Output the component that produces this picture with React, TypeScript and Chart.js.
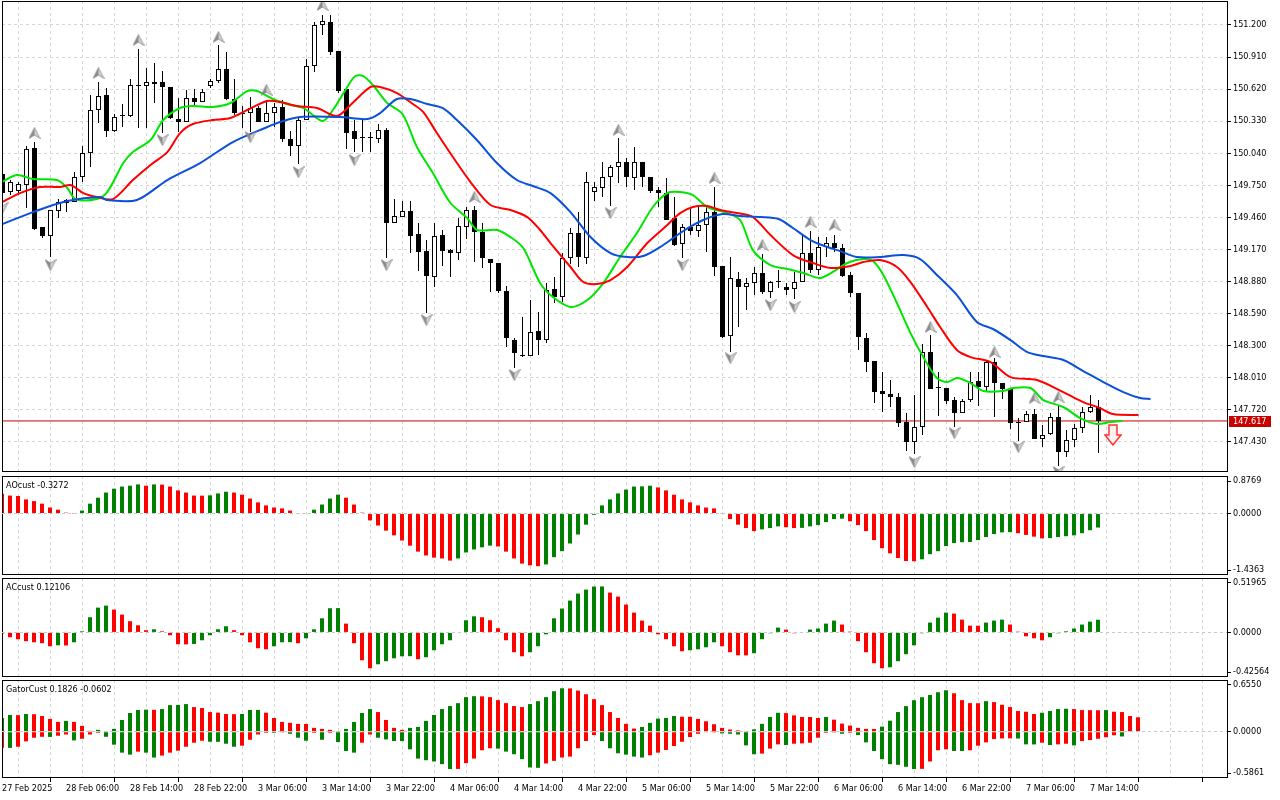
import React, { useEffect, useRef } from "react";
import { Chart, registerables } from "chart.js";

Chart.register(...registerables);

// ---------------- data ----------------
const TIME_LABELS = [
  "27 Feb 2025", "28 Feb 06:00", "28 Feb 14:00", "28 Feb 22:00", "3 Mar 06:00", "3 Mar 14:00",
  "3 Mar 22:00", "4 Mar 06:00", "4 Mar 14:00", "4 Mar 22:00", "5 Mar 06:00", "5 Mar 14:00",
  "5 Mar 22:00", "6 Mar 06:00", "6 Mar 14:00", "6 Mar 22:00", "7 Mar 06:00", "7 Mar 14:00",
];

const PRICE_TICKS = [
  147.43, 147.72, 148.01, 148.3, 148.59, 148.88, 149.17, 149.46, 149.75, 150.04, 150.33, 150.62, 150.91, 151.2,
];
const PRICE_MIN = 147.155;
const PRICE_MAX = 151.417;
const LAST_PRICE = 147.617;

const OPEN = [
  149.851, 149.689, 149.698, 149.752, 150.087, 149.372, 149.290, 149.517, 149.589, 149.598,
  149.824, 150.041, 150.431, 150.566, 150.240, 150.385, 150.376, 150.657, 150.648, 150.684,
  150.684, 150.639, 150.349, 150.322, 150.539, 150.503, 150.648, 150.693, 150.801, 150.530,
  150.403, 150.403, 150.449, 150.322, 150.403, 150.458, 150.168, 150.105, 150.340, 150.829,
  151.200, 151.227, 150.964, 150.621, 150.240, 150.186, 150.177, 150.168, 150.250, 149.408,
  149.462, 149.517, 149.308, 149.154, 148.919, 149.299, 149.163, 149.136, 149.372, 149.526,
  149.326, 149.082, 149.046, 148.793, 148.349, 148.213, 148.204, 148.431, 148.349, 148.811,
  148.738, 149.091, 149.317, 149.091, 149.689, 149.725, 149.824, 149.915, 149.960, 149.815,
  149.960, 149.824, 149.707, 149.679, 149.453, 149.218, 149.372, 149.336, 149.390, 149.507,
  149.019, 148.385, 148.901, 148.829, 148.865, 148.956, 148.784, 148.874, 148.829, 148.811,
  148.874, 149.136, 148.983, 149.191, 149.227, 149.182, 148.938, 148.774, 148.367, 148.159,
  147.888, 147.860, 147.833, 147.607, 147.426, 147.562, 148.240, 147.915, 147.915, 147.806,
  147.688, 147.806, 147.978, 147.924, 148.150, 147.960, 147.906, 147.607, 147.607, 147.679,
  147.453, 147.498, 147.652, 147.336, 147.444, 147.553, 147.697, 147.743,
];
const HIGH = [
  149.888, 149.797, 149.779, 150.105, 150.141, 149.372, 149.526, 149.625, 149.625, 149.869,
  150.105, 150.566, 150.684, 150.630, 150.394, 150.485, 150.711, 150.983, 150.811, 150.856,
  150.783, 150.639, 150.539, 150.612, 150.621, 150.621, 150.711, 151.019, 150.955, 150.711,
  150.467, 150.548, 150.467, 150.521, 150.494, 150.521, 150.240, 150.358, 150.892, 151.227,
  151.290, 151.290, 150.964, 150.639, 150.340, 150.340, 150.231, 150.304, 150.268, 149.625,
  149.607, 149.607, 149.408, 149.254, 149.408, 149.345, 149.173, 149.453, 149.553, 149.562,
  149.408, 149.082, 149.046, 148.838, 148.367, 148.557, 148.711, 148.602, 148.865, 148.919,
  149.136, 149.363, 149.507, 149.869, 149.779, 149.960, 149.933, 150.177, 149.996, 150.096,
  149.960, 149.824, 149.734, 149.815, 149.643, 149.399, 149.553, 149.553, 149.553, 149.734,
  149.019, 149.100, 148.965, 148.910, 149.010, 149.127, 148.883, 148.983, 148.865, 148.965,
  149.299, 149.336, 149.281, 149.281, 149.299, 149.218, 148.965, 148.774, 148.412, 148.159,
  148.060, 147.987, 147.869, 147.688, 147.851, 148.313, 148.394, 148.060, 147.915, 147.833,
  147.815, 148.060, 148.060, 148.168, 148.186, 147.960, 147.906, 147.643, 147.706, 147.724,
  147.580, 147.688, 147.761, 147.535, 147.589, 147.743, 147.851, 147.806,
];
const LOW = [
  149.643, 149.661, 149.661, 149.544, 149.345, 149.272, 149.100, 149.453, 149.507, 149.598,
  149.779, 149.915, 150.313, 150.186, 150.231, 150.277, 150.367, 150.268, 150.268, 150.494,
  150.222, 150.349, 150.231, 150.322, 150.458, 150.503, 150.630, 150.675, 150.521, 150.385,
  150.268, 150.231, 150.322, 150.322, 150.277, 150.141, 150.014, 149.942, 150.340, 150.774,
  151.109, 150.928, 150.584, 150.078, 150.050, 150.050, 150.050, 150.132, 149.091, 149.408,
  149.462, 149.136, 148.974, 148.593, 148.829, 149.019, 148.919, 149.073, 149.263, 149.055,
  149.001, 148.784, 148.774, 148.286, 148.096, 148.195, 148.204, 148.213, 148.322, 148.684,
  148.693, 149.037, 149.010, 149.037, 149.607, 149.643, 149.562, 149.770, 149.734, 149.707,
  149.734, 149.679, 149.553, 149.435, 149.200, 149.091, 149.299, 149.281, 149.145, 148.928,
  148.367, 148.240, 148.467, 148.621, 148.756, 148.765, 148.729, 148.820, 148.756, 148.720,
  148.874, 148.956, 148.938, 149.100, 149.145, 148.919, 148.738, 148.259, 148.060, 147.779,
  147.697, 147.743, 147.562, 147.345, 147.317, 147.489, 147.906, 147.661, 147.770, 147.562,
  147.688, 147.788, 147.752, 147.878, 147.652, 147.815, 147.544, 147.435, 147.607, 147.453,
  147.381, 147.489, 147.209, 147.290, 147.381, 147.507, 147.688, 147.326,
];
const CLOSE = [
  149.679, 149.779, 149.761, 150.078, 149.354, 149.290, 149.526, 149.598, 149.616, 149.824,
  150.041, 150.431, 150.557, 150.240, 150.367, 150.376, 150.657, 150.648, 150.684, 150.666,
  150.639, 150.358, 150.322, 150.539, 150.503, 150.593, 150.693, 150.801, 150.530, 150.403,
  150.394, 150.449, 150.322, 150.403, 150.458, 150.168, 150.105, 150.340, 150.829, 151.200,
  151.236, 150.955, 150.602, 150.222, 150.168, 150.177, 150.186, 150.250, 149.408, 149.471,
  149.517, 149.290, 149.145, 148.928, 149.290, 149.154, 149.136, 149.381, 149.526, 149.326,
  149.091, 149.046, 148.793, 148.367, 148.231, 148.204, 148.421, 148.349, 148.802, 148.738,
  149.091, 149.317, 149.100, 149.779, 149.734, 149.824, 149.915, 149.960, 149.824, 149.960,
  149.824, 149.698, 149.679, 149.435, 149.209, 149.372, 149.336, 149.390, 149.507, 149.010,
  148.376, 148.910, 148.829, 148.865, 148.956, 148.784, 148.874, 148.883, 148.802, 148.874,
  149.136, 148.983, 149.191, 149.227, 149.182, 148.928, 148.774, 148.376, 148.150, 147.878,
  147.860, 147.833, 147.598, 147.426, 147.562, 148.240, 147.906, 147.924, 147.797, 147.688,
  147.797, 147.969, 147.924, 148.150, 147.960, 147.906, 147.598, 147.598, 147.679, 147.453,
  147.489, 147.652, 147.336, 147.444, 147.553, 147.697, 147.743, 147.617,
];

// Alligator lines: [bar index, price]
const JAW = [
  [-0.3, 149.39], [3.8, 149.507], [8.1, 149.607], [12.2, 149.643], [13.1, 149.616], [16.8, 149.616],
  [20.6, 149.797], [24.7, 149.951], [28.8, 150.141], [33.1, 150.277], [34.7, 150.322], [37.2, 150.367],
  [42.2, 150.367], [45.6, 150.349], [47.2, 150.403], [49.3, 150.53], [51.0, 150.53], [53.1, 150.485],
  [55.0, 150.449], [56.8, 150.34], [59.3, 150.159], [61.8, 149.951], [64.3, 149.797], [66.3, 149.743],
  [68.5, 149.679], [71.0, 149.507], [73.5, 149.281], [76.0, 149.136], [78.1, 149.1], [80.1, 149.109],
  [82.6, 149.209], [85.1, 149.336], [87.6, 149.435], [90.0, 149.489], [92.2, 149.471], [94.7, 149.462],
  [97.0, 149.444], [98.8, 149.363], [101.0, 149.254], [103.1, 149.191], [104.7, 149.154], [106.8, 149.1],
  [109.7, 149.1], [112.6, 149.118], [114.7, 149.082], [116.8, 148.938], [119.3, 148.756], [121.8, 148.512],
  [123.8, 148.449], [126.0, 148.349], [128.1, 148.24], [130.1, 148.204], [132.6, 148.168], [135.1, 148.068],
  [137.6, 147.969], [140.1, 147.878], [142.2, 147.824], [143.5, 147.815],
];
const TEETH = [
  [-0.3, 149.589], [2.2, 149.679], [4.7, 149.734], [7.2, 149.734], [8.5, 149.752], [10.1, 149.679],
  [11.8, 149.643], [13.8, 149.625], [16.3, 149.797], [18.5, 149.933], [20.6, 150.05], [22.2, 150.222],
  [23.8, 150.304], [26.3, 150.34], [28.5, 150.358], [30.6, 150.431], [33.1, 150.512], [34.7, 150.503],
  [36.8, 150.467], [39.3, 150.449], [41.8, 150.376], [43.5, 150.476], [46.0, 150.639], [47.2, 150.639],
  [49.3, 150.584], [51.3, 150.485], [52.6, 150.412], [54.3, 150.222], [56.3, 150.005], [58.5, 149.779],
  [61.0, 149.571], [63.5, 149.526], [65.6, 149.462], [67.2, 149.345], [68.5, 149.227], [71.0, 149.01],
  [72.6, 148.874], [74.3, 148.856], [76.0, 148.892], [78.1, 149.01], [80.6, 149.227], [83.1, 149.39],
  [84.7, 149.498], [86.3, 149.553], [88.1, 149.562], [89.7, 149.526], [91.8, 149.498], [93.8, 149.462],
  [96.0, 149.299], [98.8, 149.118], [101.3, 149.046], [103.5, 149.001], [106.0, 149.019], [107.6, 149.055],
  [109.7, 149.073], [111.8, 149.01], [113.5, 148.874], [115.6, 148.648], [117.2, 148.467], [119.3, 148.259],
  [121.0, 148.195], [123.5, 148.15], [126.0, 148.014], [129.3, 147.987], [132.6, 147.878], [135.1, 147.788],
  [137.2, 147.733], [138.8, 147.679], [142.0, 147.67],
];
const LIPS = [
  [-0.3, 149.77], [1.8, 149.842], [3.8, 149.806], [6.8, 149.797], [8.1, 149.725], [9.1, 149.625],
  [11.8, 149.625], [13.1, 149.689], [15.1, 149.951], [16.3, 150.05], [18.5, 150.159], [20.1, 150.34],
  [22.2, 150.449], [23.8, 150.467], [26.3, 150.458], [28.5, 150.494], [30.6, 150.602], [31.8, 150.602],
  [33.8, 150.53], [36.0, 150.476], [37.6, 150.449], [40.0, 150.331], [41.3, 150.431], [43.1, 150.639],
  [44.1, 150.738], [45.1, 150.738], [46.3, 150.657], [48.1, 150.494], [50.0, 150.394], [51.8, 150.096],
  [53.8, 149.86], [56.0, 149.589], [58.1, 149.453], [59.3, 149.345], [61.8, 149.345], [63.5, 149.281],
  [65.1, 149.182], [67.2, 148.865], [68.8, 148.738], [71.0, 148.648], [73.1, 148.711], [75.1, 148.865],
  [77.2, 149.1], [79.3, 149.317], [81.3, 149.553], [83.1, 149.679], [84.7, 149.689], [86.3, 149.661],
  [88.1, 149.553], [90.6, 149.498], [92.2, 149.435], [93.8, 149.163], [96.0, 149.028], [98.1, 148.992],
  [100.1, 148.956], [102.2, 148.91], [103.8, 148.965], [105.6, 149.046], [107.6, 149.082], [108.8, 149.064],
  [110.1, 148.938], [111.8, 148.684], [113.5, 148.412], [115.1, 148.195], [116.8, 148.005], [118.1, 147.969],
  [119.3, 148.005], [121.0, 147.96], [122.6, 147.888], [125.1, 147.888], [126.3, 147.915], [128.5, 147.915],
  [130.1, 147.806], [132.6, 147.743], [134.7, 147.643], [136.8, 147.589], [138.5, 147.607], [140.0, 147.616],
];

// Fractal marks: bar index and the price where the arrow sits
const FRACTAL_UP_BAR = [4, 12, 17, 27, 33, 40, 59, 77, 89, 95, 101, 104, 116, 124, 129, 132];
const FRACTAL_UP_PRICE = [
  150.222, 150.765, 151.064, 151.091, 150.612, 151.381, 149.643, 150.25, 149.815, 149.209, 149.417, 149.39,
  148.467, 148.24, 147.824, 147.833,
];
const FRACTAL_DOWN_BAR = [0, 6, 20, 31, 37, 44, 48, 53, 64, 76, 85, 91, 96, 99, 114, 119, 127, 132];
const FRACTAL_DOWN_PRICE = [
  149.544, 149.028, 150.159, 150.186, 149.869, 149.978, 149.028, 148.53, 148.032, 149.498, 149.028, 148.186,
  148.666, 148.648, 147.245, 147.507, 147.381, 147.155,
];
const SIGNAL_BAR = [138.8];
const SIGNAL_PRICE = [147.49];

const AO = [
  0.46, 0.42, 0.41, 0.33, 0.29, 0.23, 0.14, 0.09, 0.02, 0.003,
  0.07, 0.23, 0.37, 0.49, 0.58, 0.63, 0.65, 0.68, 0.65, 0.68,
  0.675, 0.63, 0.54, 0.49, 0.42, 0.418, 0.425, 0.47, 0.51, 0.49,
  0.44, 0.35, 0.26, 0.19, 0.14, 0.12, 0.07, 0.005, 0.01, 0.09,
  0.21, 0.35, 0.44, 0.37, 0.21, 0.02, -0.16, -0.28, -0.4, -0.51,
  -0.63, -0.75, -0.89, -0.98, -1.03, -1.05, -1.1, -1.05, -0.91, -0.84,
  -0.79, -0.75, -0.77, -0.89, -1.05, -1.17, -1.21, -1.23, -1.19, -1.02,
  -0.88, -0.7, -0.49, -0.26, -0.03, 0.19, 0.33, 0.47, 0.56, 0.63,
  0.635, 0.65, 0.61, 0.54, 0.44, 0.33, 0.26, 0.19, 0.14, 0.12,
  0.005, -0.13, -0.26, -0.34, -0.41, -0.37, -0.34, -0.3, -0.32, -0.34,
  -0.335, -0.3, -0.27, -0.2, -0.13, -0.12, -0.18, -0.27, -0.41, -0.62,
  -0.81, -0.93, -1.04, -1.11, -1.115, -1.07, -0.95, -0.88, -0.76, -0.69,
  -0.67, -0.665, -0.62, -0.55, -0.48, -0.44, -0.435, -0.46, -0.5, -0.54,
  -0.58, -0.575, -0.55, -0.53, -0.51, -0.46, -0.39, -0.3272,
];
const AO_MIN = -1.4363;
const AO_MAX = 0.8769;

const AC = [
  -0.01, -0.046, -0.065, -0.084, -0.094, -0.103, -0.132, -0.123, -0.125, -0.094,
  0.011, 0.145, 0.237, 0.256, 0.218, 0.17, 0.107, 0.068, 0.021, 0.03,
  0.011, -0.027, -0.113, -0.114, -0.11, -0.075, -0.027, 0.03, 0.059, 0.021,
  -0.027, -0.094, -0.151, -0.161, -0.132, -0.094, -0.093, -0.103, -0.056, 0.03,
  0.135, 0.231, 0.232, 0.084, -0.103, -0.266, -0.342, -0.304, -0.275, -0.247,
  -0.228, -0.227, -0.256, -0.237, -0.17, -0.113, -0.075, -0.005, 0.116, 0.154,
  0.145, 0.116, 0.04, -0.075, -0.189, -0.228, -0.189, -0.132, -0.018, 0.135,
  0.228, 0.304, 0.371, 0.409, 0.438, 0.439, 0.38, 0.342, 0.266, 0.189,
  0.113, 0.065, -0.018, -0.065, -0.132, -0.18, -0.17, -0.161, -0.142, -0.094,
  -0.132, -0.189, -0.218, -0.219, -0.199, -0.065, -0.008, 0.046, 0.027, -0.008,
  -0.004, 0.027, 0.037, 0.084, 0.113, 0.075, 0.008, -0.084, -0.189, -0.294,
  -0.342, -0.333, -0.275, -0.208, -0.123, -0.008, 0.094, 0.141, 0.189, 0.18,
  0.122, 0.065, 0.064, 0.094, 0.113, 0.122, 0.075, 0.008, -0.037, -0.056,
  -0.075, -0.046, -0.008, 0.011, 0.037, 0.075, 0.103, 0.12106,
];
const AC_MIN = -0.42564;
const AC_MAX = 0.51965;

const GATOR_UP = [
  0.174, 0.212, 0.21, 0.224, 0.222, 0.199, 0.162, 0.124, 0.137, 0.124,
  0.074, 0.011, 0.024, 0.002, 0.036, 0.149, 0.237, 0.275, 0.279, 0.277,
  0.287, 0.337, 0.339, 0.35, 0.312, 0.3, 0.249, 0.241, 0.224, 0.222,
  0.225, 0.275, 0.276, 0.241, 0.174, 0.124, 0.112, 0.099, 0.098, 0.049,
  0.036, 0.024, 0.003, 0.036, 0.124, 0.237, 0.287, 0.249, 0.149, 0.049,
  0.024, 0.049, 0.061, 0.137, 0.212, 0.287, 0.325, 0.362, 0.438, 0.45,
  0.448, 0.438, 0.4, 0.362, 0.325, 0.312, 0.35, 0.387, 0.438, 0.513,
  0.55, 0.548, 0.521, 0.475, 0.412, 0.337, 0.249, 0.174, 0.099, 0.04,
  0.061, 0.112, 0.166, 0.174, 0.199, 0.19, 0.189, 0.162, 0.132, 0.095,
  0.049, 0.028, 0.016, 0.01, 0.03, 0.1, 0.187, 0.24, 0.236, 0.207,
  0.187, 0.186, 0.174, 0.187, 0.153, 0.103, 0.078, 0.049, 0.036, 0.035,
  0.065, 0.14, 0.249, 0.324, 0.399, 0.437, 0.466, 0.5, 0.525, 0.487,
  0.4, 0.362, 0.361, 0.387, 0.375, 0.341, 0.312, 0.262, 0.253, 0.224,
  0.24, 0.262, 0.287, 0.291, 0.287, 0.274, 0.273, 0.272, 0.274, 0.253,
  0.249, 0.199, 0.1826,
];
const GATOR_DOWN = [
  -0.203, -0.205, -0.19, -0.122, -0.076, -0.064, -0.066, -0.051, -0.035, -0.11,
  -0.089, -0.035, -0.014, -0.064, -0.164, -0.265, -0.29, -0.252, -0.265, -0.327,
  -0.302, -0.265, -0.24, -0.19, -0.139, -0.114, -0.127, -0.128, -0.152, -0.19,
  -0.177, -0.102, -0.035, -0.014, -0.015, -0.002, -0.026, -0.076, -0.114, -0.014,
  -0.102, -0.014, -0.131, -0.244, -0.265, -0.139, -0.035, -0.076, -0.097, -0.118,
  -0.119, -0.223, -0.34, -0.361, -0.377, -0.411, -0.473, -0.471, -0.398, -0.34,
  -0.235, -0.21, -0.214, -0.252, -0.285, -0.348, -0.453, -0.457, -0.402, -0.369,
  -0.327, -0.315, -0.21, -0.118, -0.043, -0.118, -0.21, -0.273, -0.29, -0.315,
  -0.327, -0.298, -0.265, -0.231, -0.181, -0.127, -0.068, -0.026, -0.005, -0.001,
  -0.022, -0.026, -0.035, -0.173, -0.285, -0.277, -0.214, -0.16, -0.168, -0.152,
  -0.148, -0.139, -0.076, -0.014, -0.01, -0.026, -0.014, -0.043, -0.135, -0.244,
  -0.348, -0.411, -0.419, -0.444, -0.473, -0.47, -0.377, -0.235, -0.223, -0.244,
  -0.245, -0.235, -0.177, -0.135, -0.093, -0.085, -0.084, -0.086, -0.16, -0.161,
  -0.139, -0.168, -0.16, -0.152, -0.173, -0.118, -0.106, -0.089, -0.07, -0.045,
  -0.0602,
];
const GATOR_MIN = -0.5861;
const GATOR_MAX = 0.655;

// ---------------- styling ----------------
const FONT_FAMILY = '"DejaVu Sans Condensed", "DejaVu Sans", sans-serif';
const FONT = { family: FONT_FAMILY, size: 9 };
const GRID = "#d6d6d6";
const GREEN = "#008000";
const RED = "#ff0000";
const PRICE_RED = "#c80000";
const AXIS_W = 53;
const SPAN = (1280 - AXIS_W - 2) / 8; // bars visible across the plot width
const X_MIN_MAIN = -0.0625;
const X_MIN_IND = 0;

function zeroPad(s: any) {
  s.paddingTop = 0;
  s.paddingBottom = 0;
  s.paddingLeft = 0;
  s.paddingRight = 0;
}

function xScale(min: number, showLabels: boolean) {
  return {
    type: "linear",
    min,
    max: min + SPAN,
    offset: false,
    afterBuildTicks: (s: any) => {
      const t = [];
      for (let v = 0; v <= 152; v += 4) t.push({ value: v });
      s.ticks = t;
    },
    afterFit: (s: any) => {
      s.height = showLabels ? 22 : 0;
      zeroPad(s);
    },
    grid: {
      color: GRID,
      lineWidth: 1,
      drawTicks: showLabels,
      tickLength: 4,
      tickColor: (c: any) => (c.tick && c.tick.value % 8 === 0 ? "#000" : "rgba(0,0,0,0)"),
      tickBorderDash: [],
    },
    border: { display: false, dash: [3, 3] },
    ticks: {
      display: showLabels,
      autoSkip: false,
      maxRotation: 0,
      minRotation: 0,
      align: "start",
      padding: 1,
      color: "#000",
      font: FONT,
      callback: (v: any) => (v % 8 === 0 ? TIME_LABELS[v / 8] ?? "" : ""),
    },
  };
}

const framePlugin = {
  id: "frame",
  afterDatasetsDraw(chart: any) {
    const { ctx, chartArea: a } = chart;
    ctx.save();
    ctx.strokeStyle = "#000";
    ctx.lineWidth = 1;
    const l = Math.round(a.left) + 0.5;
    const t = Math.round(a.top) + 0.5;
    const r = Math.round(a.right) + 0.5;
    const b = Math.round(a.bottom) - 0.5;
    ctx.strokeRect(l, t, r - l, b - t);
    ctx.restore();
  },
};

const priceLabelPlugin = {
  id: "priceLabel",
  afterDraw(chart: any) {
    const { ctx, chartArea: a } = chart;
    const y = Math.round(chart.scales.y.getPixelForValue(LAST_PRICE));
    ctx.save();
    ctx.fillStyle = PRICE_RED;
    ctx.fillRect(Math.round(a.right) + 2, y - 5, 42, 11);
    ctx.fillStyle = "#fff";
    ctx.font = `9px ${FONT_FAMILY}`;
    ctx.textBaseline = "middle";
    ctx.fillText(LAST_PRICE.toFixed(3), Math.round(a.right) + 6, y + 1);
    ctx.restore();
  },
};

function makeFractalIcon(up: boolean) {
  const c = document.createElement("canvas");
  c.width = 12;
  c.height = 12;
  const g = c.getContext("2d") as CanvasRenderingContext2D;
  if (!up) {
    g.translate(0, 12);
    g.scale(1, -1);
  }
  g.fillStyle = "#8c8c8c";
  g.beginPath();
  g.moveTo(6, 0.5);
  g.lineTo(6, 8);
  g.lineTo(0.5, 11.5);
  g.closePath();
  g.fill();
  g.fillStyle = "#d2d2d2";
  g.beginPath();
  g.moveTo(6, 0.5);
  g.lineTo(11.5, 11.5);
  g.lineTo(6, 8);
  g.closePath();
  g.fill();
  g.strokeStyle = "#808080";
  g.lineWidth = 0.7;
  g.beginPath();
  g.moveTo(6, 0.5);
  g.lineTo(11.5, 11.5);
  g.lineTo(6, 8);
  g.lineTo(0.5, 11.5);
  g.closePath();
  g.stroke();
  return c;
}

function makeSignalIcon() {
  const c = document.createElement("canvas");
  c.width = 18;
  c.height = 22;
  const g = c.getContext("2d") as CanvasRenderingContext2D;
  g.beginPath();
  g.moveTo(5, 1);
  g.lineTo(13, 1);
  g.lineTo(13, 11);
  g.lineTo(17, 11);
  g.lineTo(9, 21);
  g.lineTo(1, 11);
  g.lineTo(5, 11);
  g.closePath();
  g.fillStyle = "#fff4f4";
  g.fill();
  g.strokeStyle = "#ff3030";
  g.lineWidth = 1.5;
  g.stroke();
  return c;
}

function mainConfig() {
  const idx = OPEN.map((_, i) => i);
  const wicks = idx.map((i) => ({ x: i, y: [LOW[i], HIGH[i]] }));
  const bodies = idx.map((i) => ({ x: i, y: [OPEN[i], CLOSE[i]] }));
  const bodyColors = idx.map((i) => (CLOSE[i] - OPEN[i] > 0.012 ? "#ffffff" : "#000000"));
  const line = (pts: number[][], color: string) => ({
    type: "line",
    data: pts.map((p) => ({ x: p[0], y: p[1] })),
    borderColor: color,
    borderWidth: 2,
    pointRadius: 0,
    tension: 0.3,
    order: 3,
  });
  return {
    type: "bar",
    data: {
      datasets: [
        {
          type: "line",
          data: [
            { x: X_MIN_MAIN, y: LAST_PRICE },
            { x: X_MIN_MAIN + SPAN, y: LAST_PRICE },
          ],
          borderColor: PRICE_RED,
          borderWidth: 1,
          pointRadius: 0,
          order: 20,
        },
        {
          type: "bar",
          data: wicks,
          backgroundColor: "#000",
          barThickness: 1,
          grouped: false,
          inflateAmount: 0,
          order: 11,
        },
        {
          type: "bar",
          data: bodies,
          backgroundColor: bodyColors,
          borderColor: "#000",
          borderWidth: 1,
          borderSkipped: false,
          barThickness: 5,
          grouped: false,
          inflateAmount: 0,
          order: 10,
        },
        line(JAW, "#0a50d8"),
        line(TEETH, "#ff0000"),
        line(LIPS, "#00e600"),
        {
          type: "line",
          showLine: false,
          data: FRACTAL_UP_BAR.map((b, k) => ({ x: b, y: FRACTAL_UP_PRICE[k] })),
          pointStyle: makeFractalIcon(true),
          order: 2,
        },
        {
          type: "line",
          showLine: false,
          data: FRACTAL_DOWN_BAR.map((b, k) => ({ x: b, y: FRACTAL_DOWN_PRICE[k] })),
          pointStyle: makeFractalIcon(false),
          order: 2,
        },
        {
          type: "line",
          showLine: false,
          data: SIGNAL_BAR.map((b, k) => ({ x: b, y: SIGNAL_PRICE[k] })),
          pointStyle: makeSignalIcon(),
          order: 1,
        },
      ],
    },
    options: {
      animation: false,
      responsive: false,
      events: [],
      layout: { autoPadding: false, padding: { left: 2, top: 1, right: 0, bottom: 2 } },
      plugins: { legend: { display: false }, tooltip: { enabled: false } },
      scales: {
        x: xScale(X_MIN_MAIN, false),
        y: {
          type: "linear",
          position: "right",
          min: PRICE_MIN,
          max: PRICE_MAX,
          afterBuildTicks: (s: any) => {
            s.ticks = PRICE_TICKS.map((v) => ({ value: v }));
          },
          afterFit: (s: any) => {
            s.width = AXIS_W;
            zeroPad(s);
          },
          grid: { color: GRID, tickLength: 4, tickColor: "#000", tickBorderDash: [] },
          border: { display: false, dash: [3, 3] },
          ticks: {
            color: "#000",
            font: FONT,
            padding: 2,
            callback: (v: any) => Number(v).toFixed(3),
          },
        },
      },
    },
    plugins: [framePlugin, priceLabelPlugin],
  };
}

function histColors(vals: number[], useAbs: boolean, first: string) {
  return vals.map((v, i) => {
    if (i === 0) return first;
    const a = useAbs ? Math.abs(v) : v;
    const b = useAbs ? Math.abs(vals[i - 1]) : vals[i - 1];
    return a > b ? GREEN : RED;
  });
}

function histDataset(vals: number[], colors: string[]) {
  return {
    type: "bar",
    data: vals.map((v, i) => ({ x: i, y: v })),
    backgroundColor: colors,
    barThickness: 4,
    grouped: false,
    inflateAmount: 0,
    borderWidth: 0,
  };
}

function indicatorConfig(
  datasets: any[],
  yMin: number,
  yMax: number,
  decimals: number,
  showTime: boolean,
  padTop: number,
  padBottom: number
) {
  const labels = [yMin.toFixed(decimals), (0).toFixed(4), yMax.toFixed(decimals)];
  return {
    type: "bar",
    data: { datasets },
    options: {
      animation: false,
      responsive: false,
      events: [],
      layout: { autoPadding: false, padding: { left: 2, top: padTop, right: 0, bottom: padBottom } },
      plugins: { legend: { display: false }, tooltip: { enabled: false } },
      scales: {
        x: xScale(X_MIN_IND, showTime),
        y: {
          type: "linear",
          position: "right",
          min: yMin,
          max: yMax,
          afterBuildTicks: (s: any) => {
            const r = (s.max - s.min) / 99;
            s.ticks = [{ value: s.min + 5 * r }, { value: 0 }, { value: s.max - 5 * r }];
          },
          afterFit: (s: any) => {
            s.width = AXIS_W;
            zeroPad(s);
          },
          grid: {
            color: (c: any) => (c.index === 1 ? "#c8c8c8" : "rgba(0,0,0,0)"),
            tickLength: 4,
            tickColor: "#000",
            tickBorderDash: [],
            z: 1,
          },
          border: { display: false, dash: [3, 3] },
          ticks: {
            color: "#000",
            font: FONT,
            padding: 2,
            callback: (_v: any, i: number) => labels[i],
          },
        },
      },
    },
    plugins: [framePlugin],
  };
}

const headerStyle: any = {
  position: "absolute",
  left: 6,
  fontFamily: FONT_FAMILY,
  fontSize: 9,
  lineHeight: "12px",
  color: "#000",
  whiteSpace: "nowrap",
};

export default function App() {
  const mainRef = useRef<HTMLCanvasElement>(null);
  const aoRef = useRef<HTMLCanvasElement>(null);
  const acRef = useRef<HTMLCanvasElement>(null);
  const gatorRef = useRef<HTMLCanvasElement>(null);

  useEffect(() => {
    document.body.style.margin = "0";
    const charts: Chart[] = [];
    charts.push(new Chart(mainRef.current as any, mainConfig() as any));
    charts.push(
      new Chart(
        aoRef.current as any,
        indicatorConfig([histDataset(AO, histColors(AO, false, RED))], AO_MIN, AO_MAX, 4, false, 2, 2) as any
      )
    );
    charts.push(
      new Chart(
        acRef.current as any,
        indicatorConfig([histDataset(AC, histColors(AC, false, RED))], AC_MIN, AC_MAX, 5, false, 1, 2) as any
      )
    );
    charts.push(
      new Chart(
        gatorRef.current as any,
        indicatorConfig(
          [
            histDataset(GATOR_UP, histColors(GATOR_UP, true, GREEN)),
            histDataset(GATOR_DOWN, histColors(GATOR_DOWN, true, RED)),
          ],
          GATOR_MIN,
          GATOR_MAX,
          4,
          true,
          1,
          0
        ) as any
      )
    );
    return () => charts.forEach((c) => c.destroy());
  }, []);

  const cv = (top: number, h: number): any => ({
    position: "absolute",
    left: 0,
    top,
    width: 1280,
    height: h,
  });

  return (
    <div style={{ position: "relative", width: 1280, height: 800, background: "#fff", overflow: "hidden" }}>
      <canvas ref={mainRef} width={1280} height={474} style={cv(0, 474)} />
      <canvas ref={aoRef} width={1280} height={103} style={cv(474, 103)} />
      <canvas ref={acRef} width={1280} height={102} style={cv(577, 102)} />
      <canvas ref={gatorRef} width={1280} height={121} style={cv(679, 121)} />
      <div style={{ ...headerStyle, top: 479 }}>AOcust -0.3272</div>
      <div style={{ ...headerStyle, top: 581 }}>ACcust 0.12106</div>
      <div style={{ ...headerStyle, top: 683 }}>GatorCust 0.1826 -0.0602</div>
    </div>
  );
}
